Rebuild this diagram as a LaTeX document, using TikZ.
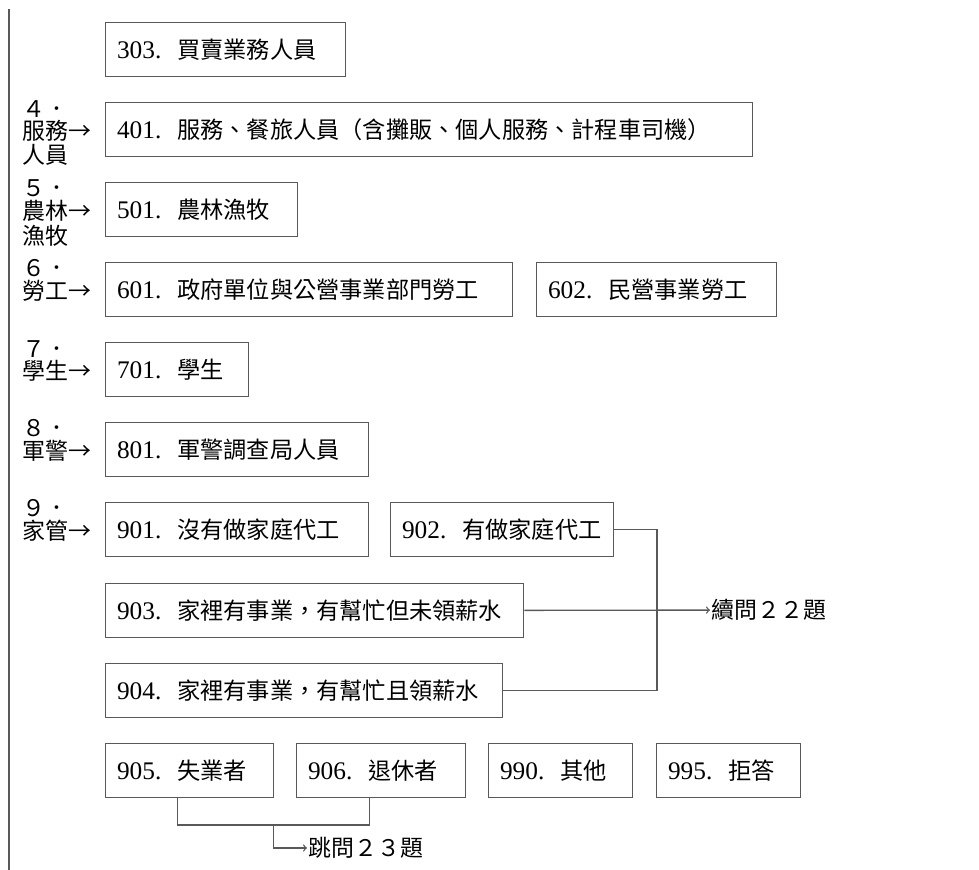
\documentclass[tikz,border=0pt]{standalone}
\usepackage{fontspec}
\usetikzlibrary{positioning,calc}
\newfontfamily\cjk{Noto Sans CJK TC}
\newfontfamily\numfont{Liberation Serif}
\newcommand{\codeItem}[2]{\mbox{{\numfont\fontsize{19}{23}\selectfont #1.}\hspace{12pt}#2}}

\begin{document}
\begin{tikzpicture}[x=0.75pt,y=-0.75pt,node distance=2pt,
  opt/.style={draw=black!65,line width=1pt,anchor=north west,
    /utils/exec={\pgfmathsetlengthmacro\optw{#1*0.75pt-17pt}},
    text width=\optw,align=left,inner xsep=8.5pt,minimum height=40.5pt,
    font=\cjk\fontsize{17.4}{20}\selectfont},
  side/.style={inner sep=0pt,anchor=west,font=\cjk\fontsize{17.2}{20}\selectfont},
  link/.style={draw=black!65,line width=1pt}]
  \useasboundingbox (0,0) rectangle (979,870);
  \coordinate (top) at (9,9);
  \coordinate (bot) at (9,870);
  \draw[link] (top) -- (bot);

  \node[opt=240] (c_303) at (105,22)  {\codeItem{303}{買賣業務人員}};
  \node[opt=647] (c_401) at (105,102) {\codeItem{401}{服務、餐旅人員（含攤販、個人服務、計程車司機）}};
  \node[opt=192] (c_501) at (105,182) {\codeItem{501}{農林漁牧}};
  \node[opt=407] (c_601) at (105,262) {\codeItem{601}{政府單位與公營事業部門勞工}};
  \node[opt=240] (c_602) at (536,262) {\codeItem{602}{民營事業勞工}};
  \node[opt=143] (c_701) at (105,342) {\codeItem{701}{學生}};
  \node[opt=263] (c_801) at (105,422) {\codeItem{801}{軍警調查局人員}};
  \node[opt=263] (c_901) at (105,502) {\codeItem{901}{沒有做家庭代工}};
  \node[opt=223] (c_902) at (390,502) {\codeItem{902}{有做家庭代工}};
  \node[opt=418] (c_903) at (105,583) {\codeItem{903}{家裡有事業，有幫忙但未領薪水}};
  \node[opt=397] (c_904) at (105,663) {\codeItem{904}{家裡有事業，有幫忙且領薪水}};
  \node[opt=168] (c_905) at (105,743) {\codeItem{905}{失業者}};
  \node[opt=169] (c_906) at (296,743) {\codeItem{906}{退休者}};
  \node[opt=144] (c_990) at (488,743) {\codeItem{990}{其他}};
  \node[opt=144] (c_995) at (656,743) {\codeItem{995}{拒答}};

  \node[side] (g_4) at (22,131) {服務→};
  \node[side] (n_4) [above=of g_4.north west,anchor=south west] {４．};
  \node[side] (t_4) [below=of g_4.south west,anchor=north west] {人員};
  \node[side] (g_5) at (22,211) {農林→};
  \node[side] (n_5) [above=of g_5.north west,anchor=south west] {５．};
  \node[side] (t_5) [below=of g_5.south west,anchor=north west] {漁牧};
  \node[side] (g_6) at (22,291) {勞工→};
  \node[side] (n_6) [above=of g_6.north west,anchor=south west] {６．};
  \node[side] (g_7) at (22,371) {學生→};
  \node[side] (n_7) [above=of g_7.north west,anchor=south west] {７．};
  \node[side] (g_8) at (22,451) {軍警→};
  \node[side] (n_8) [above=of g_8.north west,anchor=south west] {８．};
  \node[side] (g_9) at (22,531) {家管→};
  \node[side] (n_9) [above=of g_9.north west,anchor=south west] {９．};

  \coordinate (bus) at (657,0);
  \node[side,inner sep=1pt] (q_22) at (710,610) {續問２２題};
  \draw[link] (c_902.east) -| (bus |- c_904.east) -- (c_904.east);
  \draw[link,->] (c_903) -- (q_22);

  \coordinate (u_905) at ([xshift=-9pt,yshift=-20pt]c_905.south);
  \coordinate (u_906) at ([xshift=-9pt,yshift=-20pt]c_906.south);
  \node[side,inner sep=1pt] (j_23) at (307,848) {跳問２３題};
  \draw[link] ([xshift=-9pt]c_905.south) -- (u_905) -- (u_906) -- ([xshift=-9pt]c_906.south);
  \draw[link,->] ($(u_905)!0.5!(u_906)$) |- (j_23);
\end{tikzpicture}
\end{document}
